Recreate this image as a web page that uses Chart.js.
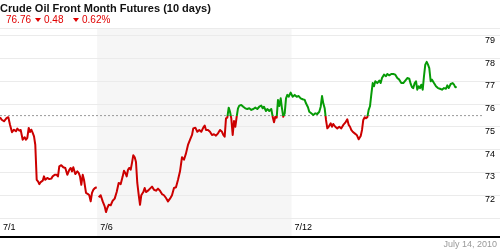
<!DOCTYPE html>
<html><head><meta charset="utf-8">
<script src="https://cdn.jsdelivr.net/npm/chart.js@4"></script>
<style>
html,body{margin:0;padding:0;background:#fff;}
#wrap{position:relative;width:500px;height:250px;overflow:hidden;font-family:'Liberation Sans',Arial,sans-serif;}
canvas{position:absolute;left:0;top:0;}
.t{position:absolute;white-space:nowrap;}
#title{left:0;top:2px;font-weight:bold;font-size:11px;line-height:13px;color:#111;}
.sub{top:14px;font-size:10px;line-height:12px;color:#e00000;}
.tri{position:absolute;top:18px;width:0;height:0;border-left:3.5px solid transparent;border-right:3.5px solid transparent;border-top:4px solid #e00000;}
#foot{right:3px;top:239px;font-size:9px;line-height:11px;color:#999;}
</style></head>
<body>
<div id="wrap">
<canvas id="c" width="500" height="250"></canvas>
<div id="title" class="t">Crude Oil Front Month Futures (10 days)</div>
<div id="last" class="t sub" style="left:6px"></div>
<div class="tri" style="left:35px"></div>
<div id="chg" class="t sub" style="left:44px"></div>
<div class="tri" style="left:73px"></div>
<div id="pct" class="t sub" style="left:82px"></div>
<div id="foot" class="t">July 14, 2010</div>
</div>
<script>
// ---- data ----
const lastPrice = 76.76;
const netChange = -0.48;
const pctChange = -0.62;
const baseline = 75.50;           // start-of-period reference price (dashed line)
const xTickDays = [0, 2, 6];       // day offsets of labelled sessions
const xTickLabels = ['7/1', '7/6', '7/12'];
const shadedWeeks = [[2, 6]];      // week of 7/6 shaded
const yTickValues = [71, 72, 73, 74, 75, 76, 77, 78, 79];
const yTickLabels = ['', '72', '73', '74', '75', '76', '77', '78', '79'];
const yMin = 71, yMax = 79.35, xMax = 9.918;

// time in trading days since 7/1 open, price in $
const times = [
0.000,0.035,0.082,0.138,0.171,0.206,0.247,0.288,0.329,0.356,0.397,0.426,0.467,0.508,0.535,0.562,0.591,0.617,0.644,0.673,0.700,0.726,0.755,0.782,0.809,0.837,0.879,0.905,0.932,0.973,1.014,1.056,1.084,1.126,1.167,1.193,1.220,1.261,1.302,1.344,1.385,1.426,1.455,1.481,1.508,1.549,1.591,1.619,1.646,1.673,1.702,1.728,1.770,1.811,1.837,1.866,1.893,1.920,1.955,1.990,
2.010,
2.031,2.072,2.113,2.154,2.181,2.208,2.237,2.278,2.319,2.360,2.401,2.442,2.484,2.525,2.551,2.578,2.607,2.634,2.660,2.689,2.716,2.743,2.772,2.798,2.825,2.854,2.881,2.907,2.949,2.977,3.004,3.045,3.086,3.128,3.169,3.210,3.251,3.292,3.333,3.374,3.416,3.457,3.498,3.539,3.580,3.621,3.663,3.704,3.745,3.786,
3.827,3.868,3.909,3.951,3.977,4.019,4.060,4.101,4.142,4.183,4.212,4.239,4.280,4.321,4.362,4.403,4.444,4.486,4.527,4.568,4.595,4.623,4.650,4.677,4.706,4.733,4.759,4.788,4.815,4.842,4.870,4.897,4.924,4.965,5.006,5.047,5.088,5.130,5.171,5.212,5.253,5.294,5.335,5.377,5.405,5.432,5.473,5.500,5.541,5.582,5.611,5.638,5.665,5.693,
5.720,5.747,5.776,5.802,5.829,5.858,5.885,5.912,5.940,5.981,6.023,6.064,6.105,6.146,6.187,6.228,6.270,6.296,6.337,6.364,6.405,6.447,6.488,6.529,6.570,6.599,6.626,6.652,6.681,6.708,6.735,6.763,6.805,6.831,6.858,6.899,6.940,6.981,7.023,7.064,7.105,7.146,7.175,7.202,7.228,7.257,7.298,7.340,7.381,7.422,7.449,7.475,7.504,7.531,7.558,7.586,7.613,
7.640,7.669,7.695,7.722,7.763,7.805,7.833,7.860,7.901,7.942,7.969,8.010,8.051,8.093,8.134,8.175,8.216,8.257,8.298,8.340,8.381,8.422,8.451,8.477,8.504,8.533,8.560,8.586,8.615,8.642,8.669,8.698,8.724,8.751,8.780,8.807,8.833,8.862,8.889,8.930,8.971,9.012,9.053,9.095,9.136,9.177,9.204,9.233,9.274,9.315,9.342,9.368,9.397
];
const prices = [
75.43,75.32,75.25,75.40,75.43,75.10,74.77,74.88,74.81,74.93,74.84,74.87,74.44,74.55,74.44,74.52,74.96,74.78,74.88,74.74,74.59,74.22,72.68,72.61,72.49,72.58,72.64,72.83,72.68,72.76,72.71,72.73,72.83,72.90,72.90,72.83,73.27,73.32,73.23,73.20,72.90,73.12,73.20,73.05,73.23,72.93,73.05,72.98,72.83,72.46,72.90,72.68,72.10,72.05,72.00,71.73,72.10,72.24,72.32,72.35,
null,
71.91,72.00,71.73,71.51,71.26,71.44,71.58,71.56,71.76,71.85,72.14,72.54,72.49,72.83,73.08,72.98,72.83,73.12,73.20,73.12,73.42,73.76,73.67,73.46,72.54,72.02,71.58,72.00,72.14,72.32,72.14,72.20,72.29,72.38,72.24,72.20,72.29,72.20,72.05,72.00,71.88,71.73,71.85,72.00,72.32,72.35,72.68,73.05,73.67,73.56,
73.84,74.21,74.43,74.65,74.94,74.97,74.79,74.87,74.79,74.97,75.06,74.87,74.87,74.79,74.65,74.68,74.62,74.72,74.87,74.79,74.65,74.57,75.38,75.41,75.85,75.67,75.38,74.65,75.26,75.01,75.45,75.82,75.94,75.97,75.89,75.82,75.79,75.82,75.75,75.79,75.85,75.79,75.89,75.94,75.82,75.89,75.70,75.79,75.70,75.79,75.45,75.21,75.45,75.41,
76.19,75.92,76.26,75.82,75.45,75.60,76.26,76.41,76.33,76.51,76.33,76.41,76.33,76.36,76.26,76.22,76.19,76.04,75.87,75.67,75.60,75.53,75.60,75.57,75.67,75.89,76.36,76.04,75.82,75.31,74.94,75.01,75.16,75.01,75.13,75.01,74.94,75.01,74.94,75.09,75.19,75.34,75.09,75.01,74.87,74.79,74.72,74.65,74.46,74.60,74.87,75.31,75.43,75.38,75.43,75.75,75.91,
76.42,76.93,76.79,77.01,76.93,77.04,76.93,77.15,77.30,77.23,77.33,77.27,77.33,77.33,77.30,77.15,77.08,76.93,76.93,77.04,77.15,77.12,76.89,76.75,76.71,76.93,77.01,76.64,76.79,76.71,76.86,76.64,77.23,77.74,77.86,77.74,77.59,77.01,77.08,76.93,76.79,76.71,76.68,76.64,76.71,76.68,76.83,76.71,76.89,76.93,76.86,76.75,76.76
];

// ---- header text ----
document.getElementById('last').textContent = lastPrice.toFixed(2);
document.getElementById('chg').textContent = Math.abs(netChange).toFixed(2);
document.getElementById('pct').textContent = Math.abs(pctChange).toFixed(2) + '%';

const UP = '#079b07', DOWN = '#cc0000';
Chart.defaults.font.family = "'Liberation Sans', Arial, sans-serif";

function lineColor(ctx) {
  const chart = ctx.chart;
  const area = chart.chartArea;
  if (!area || !chart.scales.y) return DOWN;
  const y0 = chart.scales.y.getPixelForValue(baseline);
  const g = chart.ctx.createLinearGradient(0, area.top, 0, area.bottom);
  const f = Math.min(Math.max((y0 - area.top) / (area.bottom - area.top), 0), 1);
  g.addColorStop(0, UP); g.addColorStop(f, UP); g.addColorStop(f, DOWN); g.addColorStop(1, DOWN);
  return g;
}

const shadePlugin = {
  id: 'shade',
  beforeDraw(chart) {
    const {ctx, chartArea, scales: {x}} = chart;
    ctx.save();
    ctx.fillStyle = '#f6f6f6';
    for (const [a, b] of shadedWeeks) {
      const x1 = x.getPixelForValue(a), x2 = x.getPixelForValue(b);
      ctx.fillRect(x1, chartArea.top, x2 - x1, x.bottom - chartArea.top);
    }
    ctx.restore();
  }
};
const axisLinePlugin = {
  id: 'axisLine',
  afterDraw(chart) {
    const {ctx, scales: {x}} = chart;
    ctx.save();
    ctx.fillStyle = '#000';
    ctx.fillRect(0, x.bottom - 1, chart.width, 2);
    ctx.restore();
  }
};

const series = times.map((t, i) => ({x: t, y: prices[i]}));

new Chart(document.getElementById('c'), {
  type: 'line',
  data: {
    datasets: [
      {data: series, borderColor: lineColor, borderWidth: 2, pointRadius: 0, tension: 0,
       spanGaps: false, borderJoinStyle: 'round', order: 1},
      {data: [{x: 0, y: baseline}, {x: xMax, y: baseline}], borderColor: '#999', borderWidth: 1,
       borderDash: [2, 2], pointRadius: 0, order: 2}
    ]
  },
  options: {
    responsive: false, animation: false, devicePixelRatio: 1,
    layout: {padding: {top: 28, bottom: 13, left: 0, right: 0}},
    plugins: {legend: {display: false}, tooltip: {enabled: false}, title: {display: false}},
    scales: {
      x: {
        type: 'linear', min: 0, max: xMax, bounds: 'data',
        grid: {display: false, drawTicks: false}, border: {display: false},
        afterBuildTicks: s => { s.ticks = xTickDays.map(v => ({value: v})); },
        afterFit: s => { s.height = 19; s.paddingLeft = 0; s.paddingRight = 0; },
        ticks: {align: 'start', labelOffset: 3, padding: 4, maxRotation: 0, minRotation: 0, autoSkip: false,
                color: '#000', font: {size: 9},
                callback: v => { const i = xTickDays.indexOf(v); return i >= 0 ? xTickLabels[i] : ''; }}
      },
      y: {
        position: 'right', min: yMin, max: yMax, bounds: 'data',
        grid: {color: '#ebebeb', lineWidth: 1, drawTicks: true, tickLength: 18}, border: {display: false},
        afterBuildTicks: s => { s.ticks = yTickValues.map(v => ({value: v})).concat([{value: yMax}]); },
        afterFit: s => { s.width = 18; s.paddingTop = 0; s.paddingBottom = 0; },
        ticks: {padding: -15, labelOffset: 4.5, color: '#000', font: {size: 9},
                callback: v => { const i = yTickValues.indexOf(v); return i >= 0 ? yTickLabels[i] : ''; }}
      }
    }
  },
  plugins: [shadePlugin, axisLinePlugin]
});
</script>
</body></html>
